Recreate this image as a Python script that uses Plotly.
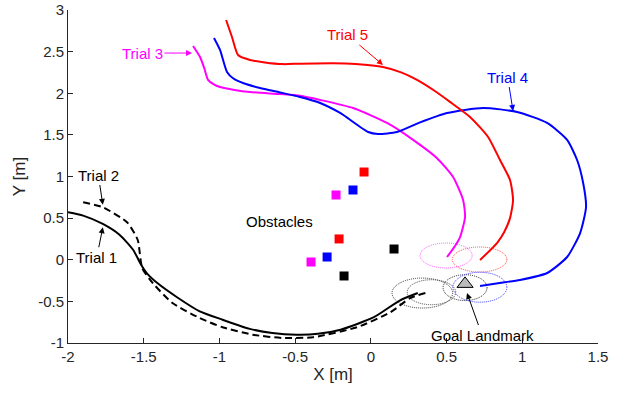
import plotly.graph_objects as go

# ---------------- data ----------------
trial1_x = [-2.0, -1.9, -1.77, -1.66, -1.57, -1.52, -1.48, -1.41, -1.28, -1.13, -0.98, -0.80, -0.65, -0.49, -0.35, -0.20, 0.02, 0.19, 0.31]
trial1_y = [0.57, 0.53, 0.43, 0.30, 0.12, -0.05, -0.16, -0.28, -0.45, -0.62, -0.72, -0.83, -0.88, -0.90, -0.89, -0.84, -0.69, -0.49, -0.40]

trial2_x = [-1.90, -1.77, -1.61, -1.54, -1.51, -1.44, -1.31, -1.13, -0.98, -0.78, -0.58, -0.38, -0.09, 0.13, 0.26, 0.36]
trial2_y = [0.69, 0.63, 0.45, 0.24, -0.10, -0.28, -0.52, -0.70, -0.81, -0.90, -0.94, -0.93, -0.81, -0.63, -0.46, -0.40]

trial3_x = [-1.174, -1.128, -1.10, -1.075, -1.04, -0.996, -0.90, -0.798, -0.60, -0.468, -0.335, -0.118, 0.107, 0.279, 0.437, 0.543, 0.609, 0.622, 0.589, 0.55, 0.503]
trial3_y = [2.568, 2.435, 2.30, 2.16, 2.11, 2.075, 2.04, 2.015, 1.99, 1.97, 1.92, 1.823, 1.643, 1.44, 1.22, 0.994, 0.718, 0.514, 0.273, 0.15, 0.033]

trial4_x = [-1.036, -0.996, -0.95, -0.91, -0.84, -0.732, -0.60, -0.468, -0.335, -0.203, -0.018, 0.048, 0.173, 0.325, 0.503, 0.741, 0.966, 1.164, 1.296, 1.362, 1.402, 1.421, 1.382, 1.296, 1.164, 0.985, 0.85, 0.721]
trial4_y = [2.664, 2.52, 2.255, 2.18, 2.12, 2.063, 2.01, 1.955, 1.883, 1.763, 1.535, 1.51, 1.535, 1.650, 1.763, 1.823, 1.775, 1.643, 1.44, 1.198, 0.922, 0.634, 0.321, 0.033, -0.159, -0.243, -0.28, -0.315]

trial5_x = [-0.956, -0.917, -0.877, -0.798, -0.70, -0.58, -0.468, -0.25, -0.10, 0.08, 0.20, 0.305, 0.42, 0.52, 0.655, 0.774, 0.853, 0.919, 0.939, 0.919, 0.88, 0.833, 0.721]
trial5_y = [2.88, 2.676, 2.46, 2.40, 2.37, 2.35, 2.355, 2.36, 2.35, 2.315, 2.25, 2.16, 2.03, 1.90, 1.715, 1.475, 1.198, 0.958, 0.718, 0.50, 0.33, 0.201, -0.003]

obs_red_x = [-0.045, -0.21]
obs_red_y = [1.054, 0.25]
obs_blue_x = [-0.118, -0.289]
obs_blue_y = [0.838, 0.033]
obs_mag_x = [-0.23, -0.395]
obs_mag_y = [0.778, -0.027]
obs_blk_x = [0.153, -0.177]
obs_blk_y = [0.129, -0.195]

goal_x = [0.622]
goal_y = [-0.29]

# ellipses: center x, center y, radius x, radius y
ell_cx = [0.34, 0.40, 0.622, 0.72, 0.497, 0.718]
ell_cy = [-0.40, -0.39, -0.335, -0.33, 0.051, 0.003]
ell_rx = [0.20, 0.16, 0.145, 0.178, 0.172, 0.18]
ell_ry = [0.18, 0.15, 0.155, 0.18, 0.15, 0.15]
ell_col = ["#333333", "#444444", "#222222", "#3333FF", "#FF55FF", "#FF4444"]

xticks = [-2, -1.5, -1, -0.5, 0, 0.5, 1, 1.5]
xtick_text = ["-2", "-1.5", "-1", "-0.5", "0", "0.5", "1", "1.5"]
yticks = [-1, -0.5, 0, 0.5, 1, 1.5, 2, 2.5, 3]
ytick_text = ["-1", "-0.5", "0", "0.5", "1", "1.5", "2", "2.5", "3"]

FONT = "Liberation Sans, Arial, Helvetica, sans-serif"
AX = "#262626"

fig = go.Figure()

def line(x, y, color, dash="solid", w=2):
    fig.add_trace(go.Scatter(x=x, y=y, mode="lines",
                             line=dict(color=color, width=w, dash=dash, shape="spline", smoothing=0.6),
                             showlegend=False, hoverinfo="skip"))

line(trial1_x, trial1_y, "black")
line(trial2_x, trial2_y, "black", dash="7px,4px")
line(trial3_x, trial3_y, "#FF00FF")
line(trial4_x, trial4_y, "#0000FF")
line(trial5_x, trial5_y, "#FF0000")

for xs, ys, c in [(obs_red_x, obs_red_y, "#FF0000"), (obs_blue_x, obs_blue_y, "#0000FF"),
                  (obs_mag_x, obs_mag_y, "#FF00FF"), (obs_blk_x, obs_blk_y, "black")]:
    fig.add_trace(go.Scatter(x=xs, y=ys, mode="markers",
                             marker=dict(symbol="square", size=9, color=c, line=dict(width=0)),
                             showlegend=False, hoverinfo="skip"))

fig.add_trace(go.Scatter(x=goal_x, y=goal_y, mode="markers",
                         marker=dict(symbol="triangle-up", size=14, color="#BBBBBB",
                                     line=dict(color="black", width=1)),
                         showlegend=False, hoverinfo="skip"))

for cx, cy, rx, ry, c in zip(ell_cx, ell_cy, ell_rx, ell_ry, ell_col):
    fig.add_shape(type="circle", xref="x", yref="y", x0=cx - rx, x1=cx + rx, y0=cy - ry, y1=cy + ry,
                  line=dict(color=c, width=1, dash="1px,1px"), layer="below")

def ann(text, tx, ty, hx, hy, color):
    fig.add_annotation(x=hx, y=hy, ax=tx, ay=ty, xref="x", yref="y", axref="x", ayref="y",
                       text=text, showarrow=True, arrowhead=2, arrowsize=1.2, arrowwidth=1,
                       arrowcolor=color, font=dict(family=FONT, size=15, color=color),
                       borderpad=1)

ann("Trial 3", -1.508, 2.483, -1.181, 2.483, "#FF00FF")
ann("Trial 5", -0.154, 2.70, 0.08, 2.34, "#FF0000")
ann("Trial 4", 0.903, 2.195, 0.939, 1.787, "#0000FF")
ann("Trial 2", -1.80, 1.018, -1.77, 0.66, "black")
ann("Trial 1", -1.81, 0.03, -1.77, 0.39, "black")
ann("Goal Landmark", 0.734, -0.904, 0.635, -0.40, "black")

fig.add_annotation(x=-0.603, y=0.465, xref="x", yref="y", text="Obstacles", showarrow=False,
                   font=dict(family=FONT, size=15, color="black"))

fig.update_layout(
    width=623, height=394,
    margin=dict(l=68, r=25, t=10, b=51),
    paper_bgcolor="white", plot_bgcolor="white",
    font=dict(family=FONT, size=15, color=AX),
    xaxis=dict(range=[-2, 1.5], tickvals=xticks, ticktext=xtick_text, showgrid=False, zeroline=False,
               showline=True, linecolor=AX, linewidth=1, ticks="inside", ticklen=5, tickcolor=AX,
               automargin=False,
               title=dict(text="X [m]", font=dict(size=17), standoff=4)),
    yaxis=dict(range=[-1, 3], tickvals=yticks, ticktext=ytick_text, showgrid=False, zeroline=False,
               showline=True, linecolor=AX, linewidth=1, ticks="inside", ticklen=5, tickcolor=AX,
               automargin=False,
               title=dict(text="Y [m]", font=dict(size=17), standoff=8)),
)

fig.write_html("out.html", config={"displayModeBar": False},
               post_script="document.body.style.margin='0';document.body.style.overflow='hidden';")
